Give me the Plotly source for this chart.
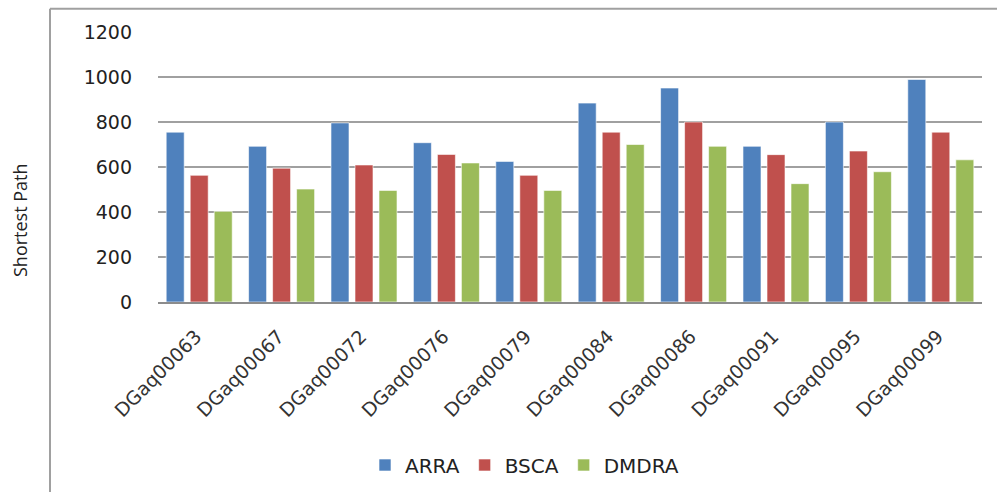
import plotly.graph_objects as go

categories = ["DGaq00063", "DGaq00067", "DGaq00072", "DGaq00076", "DGaq00079",
              "DGaq00084", "DGaq00086", "DGaq00091", "DGaq00095", "DGaq00099"]
arra = [755, 692, 796, 708, 625, 884, 951, 692, 800, 989]
bsca = [563, 595, 609, 656, 563, 755, 800, 655, 671, 755]
dmdra = [403, 502, 496, 618, 496, 700, 692, 526, 579, 632]
y_ticks = [0, 200, 400, 600, 800, 1000, 1200]

series = [("ARRA", arra, "#4F81BD"), ("BSCA", bsca, "#C0504D"), ("DMDRA", dmdra, "#9BBB59")]

W, H = 997, 492
L, R, T, B = 158, 15, 32, 190
pw = W - L - R
ph = H - T - B

def px2x(px):
    return (px - L) / pw

def py2y(py):
    return (H - B - py) / ph

fig = go.Figure()
for name, vals, col in series:
    fig.add_trace(go.Bar(
        x=categories, y=vals, name=name,
        marker=dict(color=col, line=dict(color="rgba(255,255,255,0.6)", width=1)),
    ))

font = "DejaVu Sans"
fig.update_layout(
    width=W, height=H,
    margin=dict(l=L, r=R, t=T, b=B, pad=0, autoexpand=False),
    paper_bgcolor="white", plot_bgcolor="white",
    barmode="group", bargap=0.126, bargroupgap=0.25,
    font=dict(family=font, size=18, color="#222222"),
    showlegend=True,
    legend=dict(orientation="h", x=px2x(365), xanchor="left",
                y=py2y(465), yanchor="middle",
                font=dict(family=font, size=20, color="#222222"),
                itemwidth=30, traceorder="normal"),
    xaxis=dict(
        tickangle=-45, showgrid=False, showline=True, linecolor="#8c8c8c", linewidth=2,
        ticks="", tickfont=dict(family=font, size=19, color="#333333"),
        ticklabelstandoff=14, ticklabelshift=-3,
    ),
    yaxis=dict(
        range=[0, 1200], tickvals=y_ticks, showgrid=True, gridcolor="#a0a0a0", gridwidth=1.5,
        zeroline=False, showline=False, ticks="",
        tickfont=dict(family=font, size=19, color="#222222"),
        ticklabelstandoff=25,
    ),
    shapes=[
        dict(type="line", xref="paper", yref="paper", x0=px2x(50), x1=px2x(1000),
             y0=py2y(8.7), y1=py2y(8.7), line=dict(color="#a0a0a0", width=2)),
        dict(type="line", xref="paper", yref="paper", x0=px2x(50), x1=px2x(50),
             y0=py2y(8.7), y1=py2y(495), line=dict(color="#a0a0a0", width=2)),
    ],
    annotations=[
        dict(text="Shortest Path", xref="paper", yref="paper", x=px2x(20), y=py2y(220),
             textangle=-90, showarrow=False, xanchor="center", yanchor="middle",
             font=dict(family="Open Sans", size=18, color="#222222")),
    ],
)

fig.write_html("out.html", config={"displayModeBar": False},
               post_script="document.body.style.margin='0';document.body.style.overflow='hidden';")
